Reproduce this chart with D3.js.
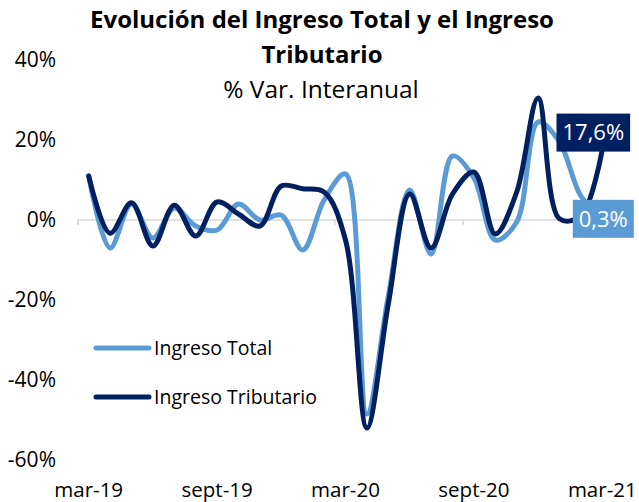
<!DOCTYPE html>
<html>
<head>
<meta charset="utf-8">
<script src="https://cdn.jsdelivr.net/npm/d3@7"></script>
<style>
  body { margin: 0; background: #fff; }
  svg text { font-family: "Open Sans", "Noto Sans", sans-serif; fill: #000; }
</style>
</head>
<body>
<svg id="chart" width="639" height="502"></svg>
<script>
// months, mar-19 .. mar-21
const months = ['mar-19','abr-19','may-19','jun-19','jul-19','ago-19','sept-19','oct-19','nov-19','dic-19','ene-20','feb-20',
  'mar-20','abr-20','may-20','jun-20','jul-20','ago-20','sept-20','oct-20','nov-20','dic-20','ene-21','feb-21','mar-21'];
const ingresoTotal = [11, -7, 4, -4.5, 3, -1.5, -2.5, 4, 0, 1.2, -7.5, 5, 11.5, -48.5, -19, 7.5, -8.5, 16, 10.5, -5, -0.5, 24.5, 19.5, 6, 0.3];
const ingresoTributario = [11, -3.3, 4.3, -6.5, 3.7, -4, 4.5, 1.5, -1.5, 8.5, 7.8, 7, -5, -52, -21, 6.5, -7, 6.5, 12, -3.5, 7, 30.5, 0.3, 1, 17.6];
const yTicks = [40, 20, 0, -20, -40, -60];
const xTickLabels = ['mar-19', 'sept-19', 'mar-20', 'sept-20', 'mar-21'];

const lightBlue = '#5b9bd5';
const darkBlue = '#002060';

const svg = d3.select('#chart');

// Scales
const x = d3.scaleBand().domain(months).range([78, 613]).padding(0);
const cx = d => x(d) + x.bandwidth() / 2;
const y = d3.scaleLinear().domain([-60, 40]).range([460, 60]);

// Title
svg.append('text')
  .attr('x', 322).attr('y', 28)
  .attr('text-anchor', 'middle')
  .style('font-size', '24px').style('font-weight', 'bold')
  .text('Evolución del Ingreso Total y el Ingreso');
svg.append('text')
  .attr('x', 322).attr('y', 63)
  .attr('text-anchor', 'middle')
  .style('font-size', '24px').style('font-weight', 'bold')
  .text('Tributario');
svg.append('text')
  .attr('x', 321).attr('y', 98)
  .attr('text-anchor', 'middle')
  .style('font-size', '24.5px')
  .text('% Var. Interanual');

// Y axis labels (no axis line)
svg.selectAll('.ylab')
  .data(yTicks)
  .enter().append('text')
  .attr('class', 'ylab')
  .attr('x', 56)
  .attr('y', d => y(d))
  .attr('dy', '0.35em')
  .attr('text-anchor', 'end')
  .style('font-size', '21px')
  .text(d => d + '%');

// Zero line with tick marks every 6 months
const xAxis = d3.axisBottom(x)
  .tickValues(months.filter((d, i) => i % 6 === 0))
  .tickSize(5)
  .tickFormat('')
  .offset(0);
const gx = svg.append('g')
  .attr('transform', 'translate(0,' + y(0) + ')')
  .call(xAxis);
gx.select('.domain').attr('stroke', '#d9d9d9').attr('stroke-width', 1.5)
  .attr('d', 'M78,5V0H613V5');
gx.selectAll('.tick').attr('transform', d => 'translate(' + x(d) + ',0)');
gx.selectAll('.tick line').attr('stroke', '#d9d9d9').attr('stroke-width', 1.5);

// X labels
svg.selectAll('.xlab')
  .data(xTickLabels)
  .enter().append('text')
  .attr('class', 'xlab')
  .attr('x', d => cx(d))
  .attr('y', 497)
  .attr('text-anchor', 'middle')
  .style('font-size', '20.5px')
  .text(d => d);

// Lines
const line = d3.line()
  .x((d, i) => cx(months[i]))
  .y(d => y(d))
  .curve(d3.curveCatmullRom.alpha(0.5));

svg.append('path')
  .datum(ingresoTotal)
  .attr('d', line)
  .attr('fill', 'none')
  .attr('stroke', lightBlue)
  .attr('stroke-width', 5)
  .attr('stroke-linejoin', 'round')
  .attr('stroke-linecap', 'round');

svg.append('path')
  .datum(ingresoTributario)
  .attr('d', line)
  .attr('fill', 'none')
  .attr('stroke', darkBlue)
  .attr('stroke-width', 5)
  .attr('stroke-linejoin', 'round')
  .attr('stroke-linecap', 'round');

// Data labels on last point
function endLabel(value, color, dx, dy) {
  const last = months[months.length - 1];
  const px = cx(last) + dx, py = y(value) + dy;
  const g = svg.append('g');
  const rect = g.append('rect').attr('fill', color);
  const t = g.append('text')
    .attr('x', px).attr('y', py)
    .attr('dy', '0.35em')
    .attr('text-anchor', 'middle')
    .style('font-size', '22px')
    .style('fill', '#fff')
    .text(d3.format('.1f')(value).replace('.', ',') + '%');
  const bb = t.node().getBBox();
  rect.attr('x', px - bb.width / 2 - 6).attr('y', py - 19)
    .attr('width', bb.width + 12).attr('height', 38);
}
endLabel(ingresoTributario[ingresoTributario.length - 1], darkBlue, -9, -17);
endLabel(ingresoTotal[ingresoTotal.length - 1], lightBlue, 1, 0);

// Legend
const legend = [
  { name: 'Ingreso Total', color: lightBlue, y: 348 },
  { name: 'Ingreso Tributario', color: darkBlue, y: 397 }
];
const lg = svg.selectAll('.legend')
  .data(legend)
  .enter().append('g')
  .attr('class', 'legend');
lg.append('line')
  .attr('x1', 96).attr('x2', 149)
  .attr('y1', d => d.y).attr('y2', d => d.y)
  .attr('stroke', d => d.color)
  .attr('stroke-width', 5)
  .attr('stroke-linecap', 'round');
lg.append('text')
  .attr('x', 154)
  .attr('y', d => d.y)
  .attr('dy', '0.35em')
  .style('font-size', '19.5px')
  .text(d => d.name);
</script>
</body>
</html>
